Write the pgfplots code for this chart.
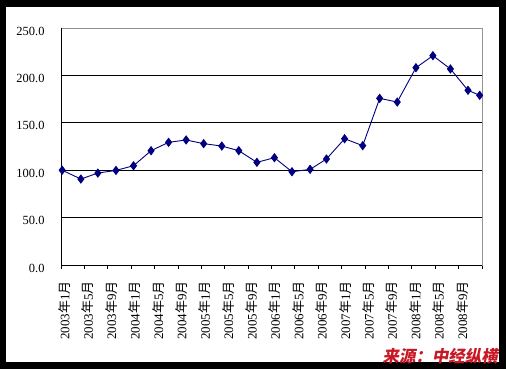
\documentclass[border=0pt]{standalone}
\usepackage{pgfplots}
\pgfplotsset{compat=1.18}
\usepackage{fontspec}
\setmainfont{Liberation Serif}
\newfontfamily\cjk{Noto Sans CJK SC}
\newfontfamily\srcfont[FakeSlant=0.18]{Noto Sans CJK SC}
\definecolor{navy}{RGB}{0,0,128}
\definecolor{srcred}{RGB}{200,24,36}
\newcommand{\lab}[2]{#1{\cjk 年}#2{\cjk 月}}
\begin{document}
\begin{tikzpicture}[x=1bp,y=1bp]
\fill[black] (0,0) rectangle (506,-369);
\fill[white] (6,-7) rectangle (499,-362);
\begin{axis}[
  at={(61bp,-265bp)}, anchor=south west,
  width=421bp, height=237bp, scale only axis,
  xmin=0, xmax=72, ymin=0, ymax=250,
  clip=false,
  axis line style={draw=gray!85, line width=0.9bp},
  xtick={0,4,...,72},
  xticklabels={\lab{2003}{1},\lab{2003}{5},\lab{2003}{9},\lab{2004}{1},\lab{2004}{5},\lab{2004}{9},\lab{2005}{1},\lab{2005}{5},\lab{2005}{9},\lab{2006}{1},\lab{2006}{5},\lab{2006}{9},\lab{2007}{1},\lab{2007}{5},\lab{2007}{9},\lab{2008}{1},\lab{2008}{5},\lab{2008}{9},{}},
  xtick pos=bottom, tick align=outside,
  major tick length=4bp,
  x tick style={black, line width=0.9bp},
  ytick={0,50,...,200}, extra y ticks={250},
  extra y tick style={ymajorgrids=false},
  ymajorgrids=true,
  grid style={black, line width=0.9bp},
  y tick style={draw=none},
  ytick pos=left,
  /pgf/number format/assume math mode=true,
  yticklabel style={/pgf/number format/.cd, fixed, fixed zerofill, precision=1, /tikz/.cd, anchor=east, xshift=-9bp, yshift=-3bp, font=\fontsize{12.5}{14}\selectfont},
  xticklabel style={rotate=90, anchor=east, xshift=-9bp, yshift=-3.5bp, font=\fontsize{13}{15}\selectfont},
]
\draw[black, line width=0.9bp] (rel axis cs:0,1) -- (rel axis cs:0,0) -- (rel axis cs:1,0);
\addplot[color=navy, line width=0.9bp, mark=diamond*, mark size=4bp, mark options={fill=navy, draw=navy}] coordinates {
(0.2,100) (3.4,90.7) (6.3,97.0) (9.4,99.8) (12.4,104.7) (15.4,120.6) (18.4,129.4) (21.4,131.9) (24.4,128.0) (27.5,125.5) (30.4,120.6) (33.5,108.3) (36.5,113.2) (39.5,98.4) (42.6,100.9) (45.4,111.8) (48.5,133.2) (51.6,125.9) (54.5,175.8) (57.5,171.9) (60.7,208.1) (63.6,220.8) (66.6,206.8) (69.6,184.3) (71.6,179.0)
};
\end{axis}
\node[anchor=base east, text=srcred, font=\fontsize{16.5}{16.5}\selectfont\srcfont\bfseries, inner sep=0pt] at (498,-362) {来源：中经纵横};
\pgfresetboundingbox
\path[use as bounding box] (0,0) rectangle (506,-369);
\end{tikzpicture}
\end{document}
